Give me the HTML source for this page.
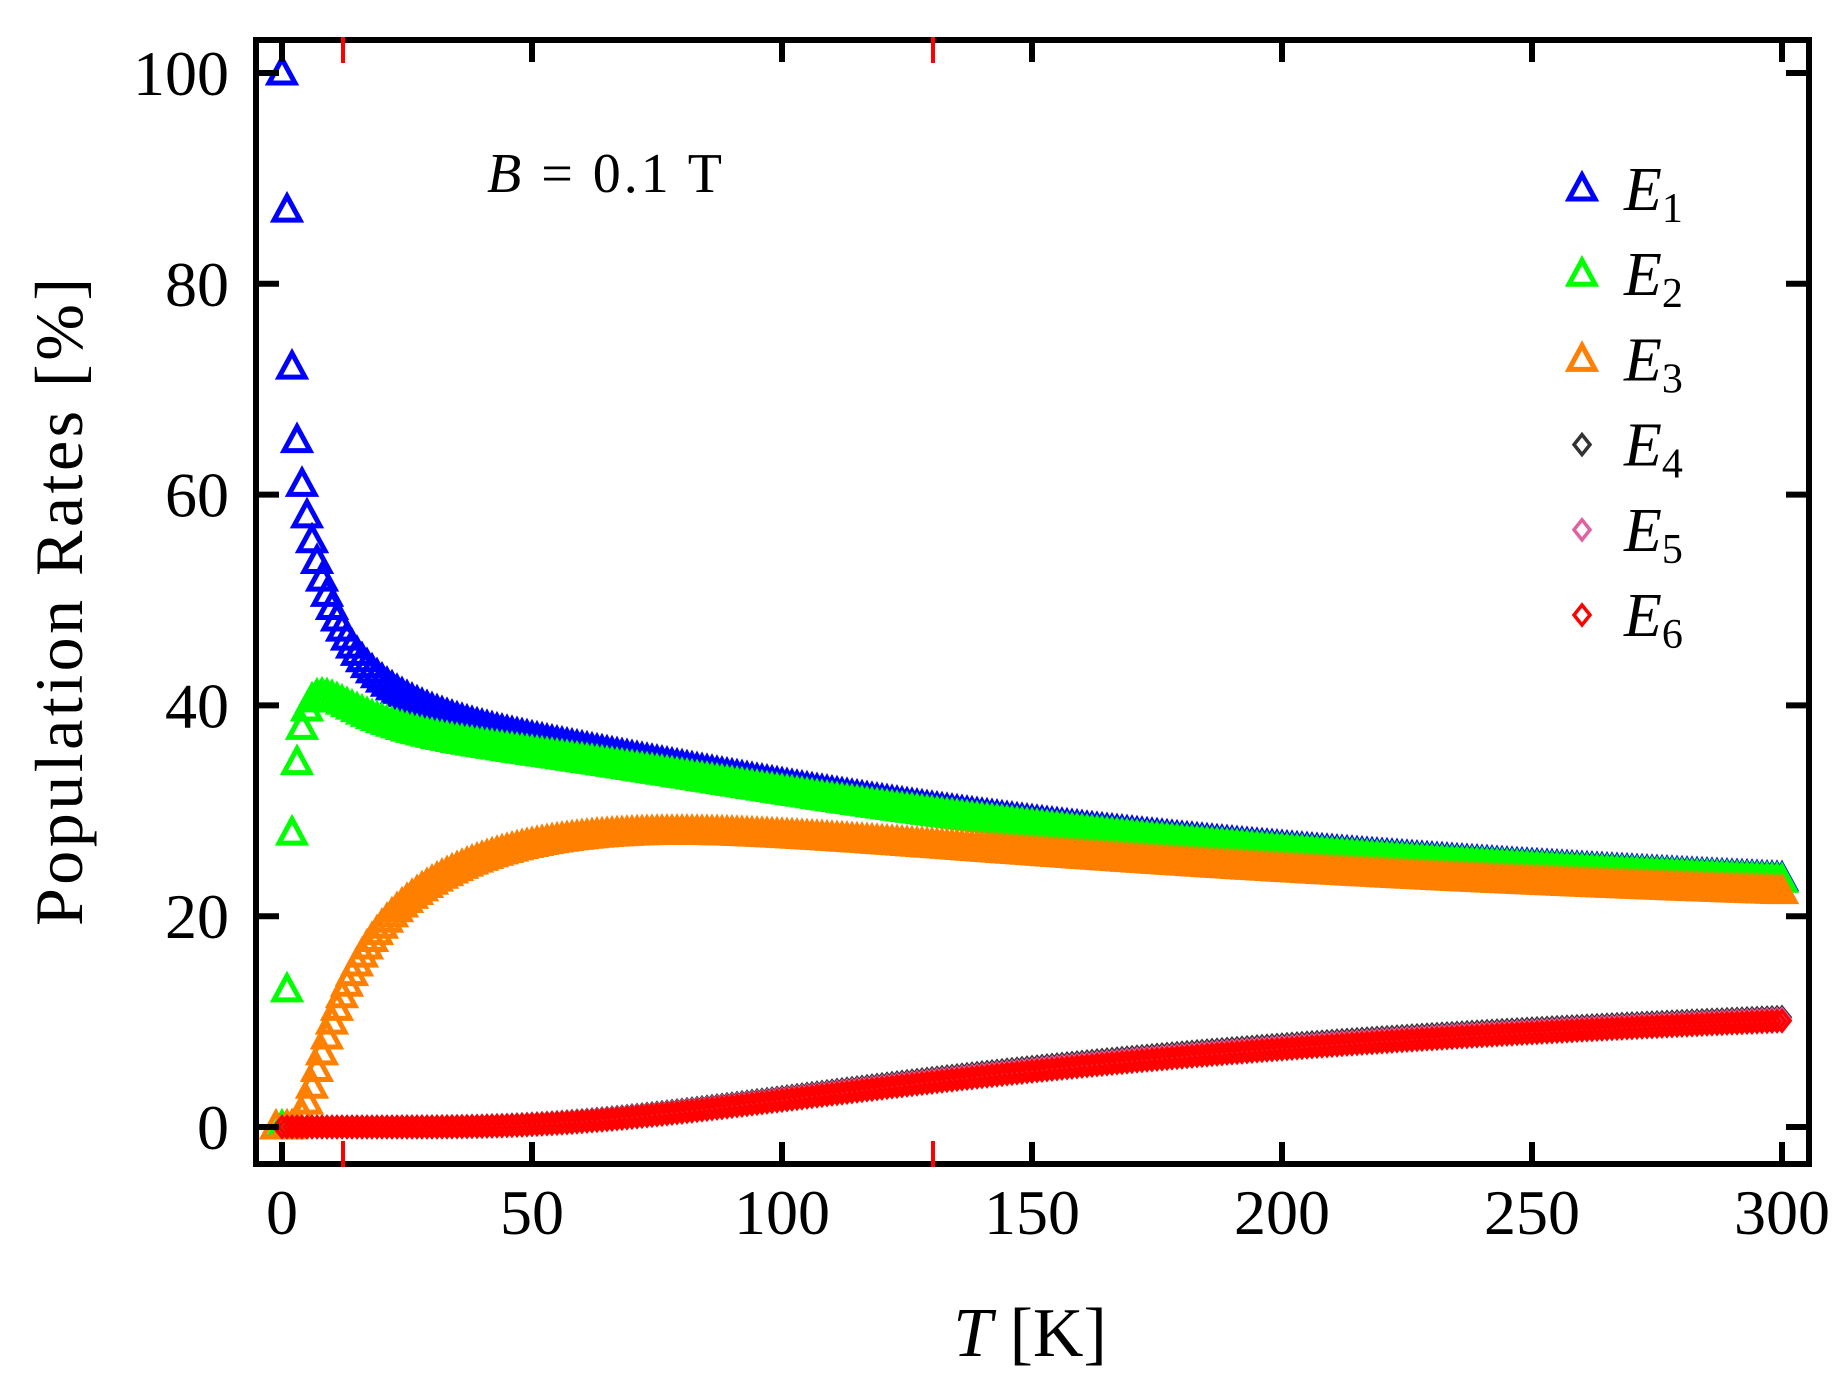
<!DOCTYPE html>
<html><head><meta charset="utf-8"><style>
html,body{margin:0;padding:0;background:#fff;}
svg{display:block;font-family:"Liberation Serif",serif;}
</style></head><body>
<svg id="s" width="1848" height="1400" viewBox="0 0 1848 1400" xmlns="http://www.w3.org/2000/svg">
<g id="data"></g>
<g id="axes" stroke="#000" stroke-width="6" fill="none">
<rect x="256" y="40" width="1553" height="1124"/>
</g>
<g id="ticks"></g>
<g font-size="64" fill="#000" text-anchor="end" id="ylab"></g>
<g font-size="64" fill="#000" text-anchor="middle" id="xlab"></g>
<text x="0" y="0" font-size="68" transform="translate(82,602) rotate(-90)" text-anchor="middle" textLength="648">Population Rates [%]</text>
<text x="1030" y="1356" font-size="70" text-anchor="middle"><tspan font-style="italic">T</tspan> [K]</text>
<text x="487" y="192" font-size="56" textLength="235"><tspan font-style="italic">B</tspan> = 0.1 T</text>
<g id="legend"></g>
</svg>
<script>
var NS="http://www.w3.org/2000/svg";
function el(t,a,p){var e=document.createElementNS(NS,t);for(var k in a)e.setAttribute(k,a[k]);if(p)p.appendChild(e);return e;}
function X(t){return 282+t*5;}
function Y(v){return 1127-v*10.54;}
var ticks=document.getElementById('ticks'),yl=document.getElementById('ylab'),xl=document.getElementById('xlab');
for(var v=0;v<=100;v+=20){var y=Y(v);
 el('line',{x1:256,y1:y,x2:279,y2:y,stroke:'#000','stroke-width':6},ticks);
 el('line',{x1:1809,y1:y,x2:1786,y2:y,stroke:'#000','stroke-width':6},ticks);
 var t=el('text',{x:229,y:y+22},yl);t.textContent=v;}
for(var t=0;t<=300;t+=50){var x=X(t);
 el('line',{x1:x,y1:1164,x2:x,y2:1142,stroke:'#000','stroke-width':6},ticks);
 el('line',{x1:x,y1:40,x2:x,y2:62,stroke:'#000','stroke-width':6},ticks);
 var tx=el('text',{x:x,y:1234},xl);tx.textContent=t;}
[343,933].forEach(function(x){
 el('line',{x1:x,y1:37,x2:x,y2:63,stroke:'#f00','stroke-width':4},ticks);
 el('line',{x1:x,y1:1167,x2:x,y2:1141,stroke:'#f00','stroke-width':4},ticks);});
var E=[0,1.9,16,245,250,255];
var cols=['#0000ff','#00ff00','#ff8000','#333333','#e060a0','#ff0000'];
var g=document.getElementById('data');
function tri(x,y,c,p){el('polygon',{points:(x)+','+(y-14)+' '+(x-13)+','+(y+10)+' '+(x+13)+','+(y+10),fill:'none',stroke:c,'stroke-width':5},p);}
function dia(x,y,c,p){el('polygon',{points:x+','+(y-10)+' '+(x+8)+','+y+' '+x+','+(y+10)+' '+(x-8)+','+y,fill:'none',stroke:c,'stroke-width':3.5},p);}
for(var s=0;s<6;s++){
 for(var T=0;T<=300;T+=1){
  var tt=Math.max(T,0.05),Z=0;for(var k=0;k<6;k++)Z+=Math.exp(-E[k]/tt);
  var p=100*Math.exp(-E[s]/tt)/Z;
  var xx=X(T)+(s==2&&T==0?-6:0);
  if(s<3)tri(xx,Y(p),cols[s],g);else dia(xx,Y(p),cols[s],g);
 }}
var lg=document.getElementById('legend');
for(var i=0;i<6;i++){var y=189+i*85.2;
 if(i<3)tri(1582,y,cols[i],lg);else dia(1582,y,cols[i],lg);
 var tx=el('text',{x:1624,y:y+21,'font-size':62},lg);
 var a=el('tspan',{'font-style':'italic'},tx);a.textContent='E';
 var b=el('tspan',{'font-size':42,dy:12},tx);b.textContent=(i+1);}
</script>
</body></html>
